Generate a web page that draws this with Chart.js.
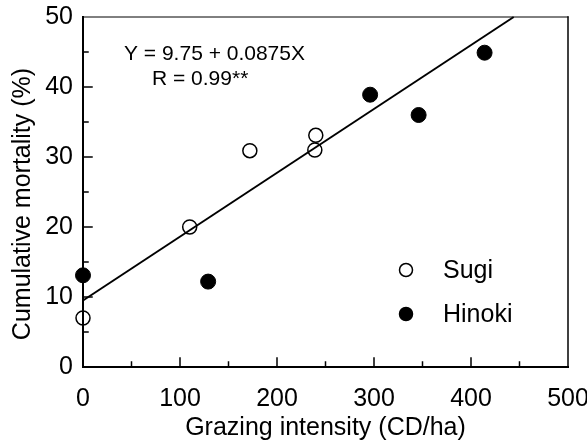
<!DOCTYPE html>
<html lang="en">
<head>
  <meta charset="UTF-8">
  <title>Grazing intensity vs mortality</title>
  <style>
    html, body { margin: 0; padding: 0; background: #fff; }
    .chart-box { width: 587px; height: 441px; }
  </style>
</head>
<body>
<div class="chart-box">
  <canvas id="mortalityChart" width="587" height="441"></canvas>
</div>

<script src="https://cdn.jsdelivr.net/npm/chart.js@4/dist/chart.umd.min.js"></script>
<script>
  // values
  const sugiX = [0, 110, 172, 239, 240];
  const sugiY = [7, 20, 30.9, 31, 33.1];
  const hinokiX = [0, 129, 296, 346, 414];
  const hinokiY = [13.1, 12.2, 38.9, 36, 44.9];
  const fitX = [0, 444];
  const fitY = [9.5, 50];
  const xTicks = [0, 100, 200, 300, 400, 500];
  const yTicks = [0, 10, 20, 30, 40, 50];
  const seriesNames = ['Sugi', 'Hinoki'];
  const equationLines = ['Y = 9.75 + 0.0875X', 'R = 0.99**'];

  const FONT = '"Liberation Sans", Arial, Helvetica, sans-serif';

  function toPoints(xs, ys) {
    return xs.map((x, i) => ({ x: x, y: ys[i] }));
  }

  // scales shouldn't reserve room for overhanging tick labels
  function noLabelPadding(s) {
    s.paddingLeft = 0; s.paddingRight = 0;
    s.paddingTop = 0; s.paddingBottom = 0;
  }

  // frame, inward tick marks, equation, legend and y title
  const decorations = {
    id: 'decorations',
    beforeDatasetsDraw(chart) {
      const ctx = chart.ctx;
      const a = chart.chartArea;
      const xs = chart.scales.x, ys = chart.scales.y;
      ctx.save();
      ctx.strokeStyle = '#000';
      ctx.lineCap = 'square';
      // top and right thin, left and bottom heavier
      ctx.lineWidth = 1;
      ctx.beginPath();
      ctx.moveTo(a.left, a.top); ctx.lineTo(a.right, a.top);
      ctx.stroke();
      ctx.lineWidth = 1.5;
      ctx.beginPath();
      ctx.moveTo(a.right, a.top); ctx.lineTo(a.right, a.bottom);
      ctx.stroke();
      ctx.lineWidth = 2;
      ctx.beginPath();
      ctx.moveTo(a.left, a.top); ctx.lineTo(a.left, a.bottom); ctx.lineTo(a.right, a.bottom);
      ctx.stroke();

      ctx.lineWidth = 1.5;
      ctx.beginPath();
      for (let v = 50; v < 500; v += 50) {
        const px = xs.getPixelForValue(v);
        const len = v % 100 === 0 ? 9 : 5;
        ctx.moveTo(px, a.bottom); ctx.lineTo(px, a.bottom - len);
      }
      for (let v = 5; v < 50; v += 5) {
        const py = ys.getPixelForValue(v);
        const len = v % 10 === 0 ? 9 : 5;
        ctx.moveTo(a.left, py); ctx.lineTo(a.left + len, py);
      }
      ctx.stroke();
      ctx.restore();
    },
    afterDraw(chart) {
      const ctx = chart.ctx;
      const a = chart.chartArea;
      ctx.save();
      ctx.fillStyle = '#000';
      ctx.textBaseline = 'middle';

      // regression text
      ctx.font = '21px ' + FONT;
      ctx.textAlign = 'left';
      ctx.fillText(equationLines[0], a.left + 41, a.top + 37);
      ctx.fillText(equationLines[1], a.left + 69, a.top + 62);

      // legend
      const lx = a.left + 323;
      const ly = [a.top + 253, a.top + 297];
      ctx.font = '25px ' + FONT;
      [1, 2].forEach((di, i) => {
        const ds = chart.data.datasets[di];
        ctx.beginPath();
        ctx.arc(lx, ly[i], 6.5, 0, Math.PI * 2);
        ctx.fillStyle = ds.backgroundColor === 'transparent' ? '#fff' : ds.backgroundColor;
        ctx.fill();
        ctx.lineWidth = 1.5;
        ctx.strokeStyle = ds.borderColor;
        ctx.stroke();
        ctx.fillStyle = '#000';
        ctx.fillText(ds.label, lx + 37, ly[i] + 1);
      });

      // y axis title
      ctx.translate(23, 204);
      ctx.rotate(-Math.PI / 2);
      ctx.textAlign = 'center';
      ctx.font = '25px ' + FONT;
      ctx.fillText('Cumulative mortality (%)', 0, 0);
      ctx.restore();
    }
  };

  const chart = new Chart(document.getElementById('mortalityChart'), {
    type: 'scatter',
    data: {
      datasets: [
        {
          label: 'fit',
          data: toPoints(fitX, fitY),
          showLine: true,
          borderColor: '#000',
          borderWidth: 2,
          pointRadius: 0,
          clip: false
        },
        {
          label: seriesNames[0],
          data: toPoints(sugiX, sugiY),
          backgroundColor: 'transparent',
          borderColor: '#000',
          borderWidth: 1.5,
          pointRadius: 7,
          clip: false
        },
        {
          label: seriesNames[1],
          data: toPoints(hinokiX, hinokiY),
          backgroundColor: '#000',
          borderColor: '#000',
          borderWidth: 1,
          pointRadius: 7.5,
          clip: false
        }
      ]
    },
    options: {
      responsive: false,
      animation: false,
      layout: { padding: { top: 17, right: 19, left: 0, bottom: 0 } },
      plugins: {
        legend: { display: false },
        tooltip: { enabled: false }
      },
      scales: {
        x: {
          type: 'linear',
          min: 0,
          max: 500,
          afterBuildTicks: s => { s.ticks = xTicks.map(v => ({ value: v })); },
          afterFit: s => { s.height = 74; noLabelPadding(s); },
          grid: { display: true, drawOnChartArea: false, drawTicks: false },
          border: { display: false },
          ticks: { color: '#000', padding: 17, maxRotation: 0, font: { family: FONT, size: 25 } },
          title: {
            display: true,
            text: 'Grazing intensity (CD/ha)',
            color: '#000',
            padding: 0,
            font: { family: FONT, size: 25, lineHeight: 1 }
          }
        },
        y: {
          type: 'linear',
          min: 0,
          max: 50,
          afterBuildTicks: s => { s.ticks = yTicks.map(v => ({ value: v })); },
          afterFit: s => { s.width = 83; noLabelPadding(s); },
          grid: { display: true, drawOnChartArea: false, drawTicks: false },
          border: { display: false },
          ticks: { color: '#000', padding: 10, font: { family: FONT, size: 25 } }
        }
      }
    },
    plugins: [decorations]
  });
</script>
</body>
</html>
